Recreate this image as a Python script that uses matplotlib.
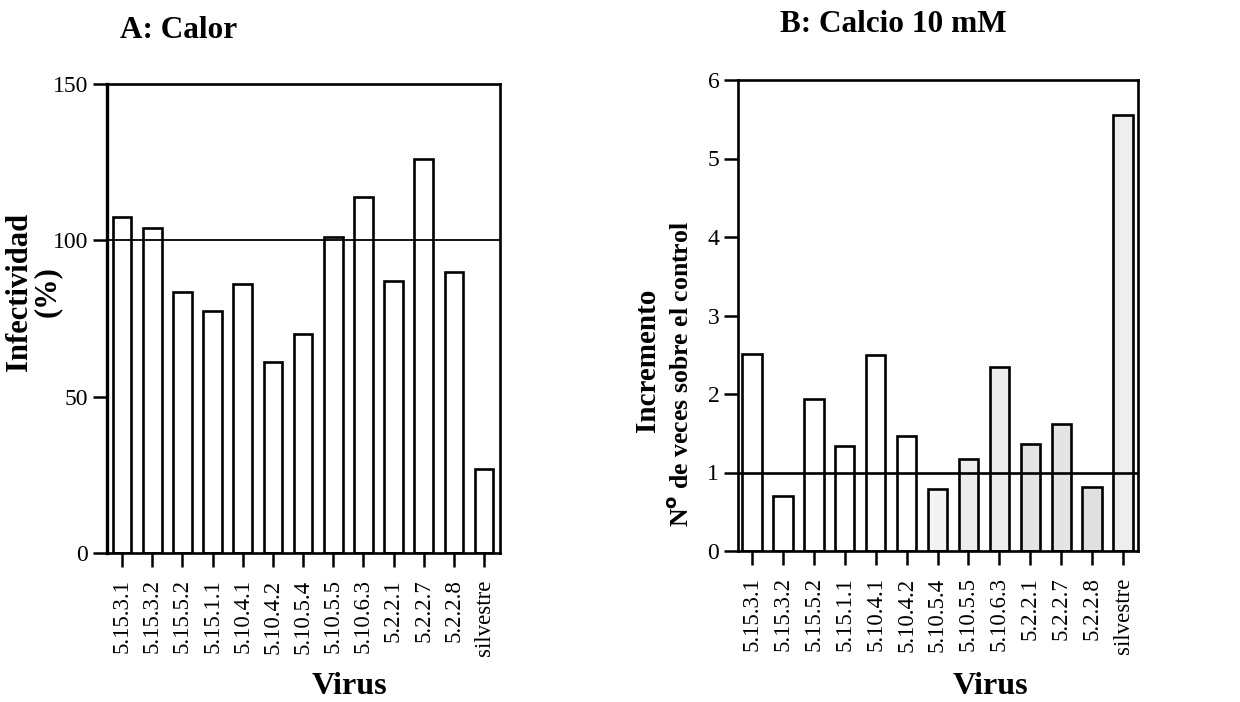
import matplotlib
matplotlib.use("Agg")
import matplotlib.pyplot as plt
import numpy as np

plt.rcParams['font.family'] = ['Liberation Serif', 'DejaVu Serif']

# Datos
virus = ['5.15.3.1', '5.15.3.2', '5.15.5.2', '5.15.1.1', '5.10.4.1', '5.10.4.2',
         '5.10.5.4', '5.10.5.5', '5.10.6.3', '5.2.2.1', '5.2.2.7', '5.2.2.8', 'silvestre']
infectividad = [107.5, 104, 83.5, 77.5, 86, 61, 70, 101, 114, 87, 126, 90, 27]
incremento = [2.51, 0.70, 1.94, 1.34, 2.50, 1.46, 0.79, 1.17, 2.34, 1.36, 1.62, 0.82, 5.56]

# relleno punteado de las barras en B
relleno_b = ['white'] * 6 + ['#f3f3f3', '#ededed', '#ededed', '#e4e4e4', '#e4e4e4', '#e0e0e0', '#eeeeee']

fig = plt.figure(figsize=(12.4, 7.02), dpi=100)
axA = fig.add_axes([107 / 1240, 1 - 553 / 702, 393 / 1240, 469 / 702])
axB = fig.add_axes([738 / 1240, 1 - 551 / 702, 400 / 1240, 471 / 702])

x = np.arange(len(virus))

def estilo(ax):
    for s in ax.spines.values():
        s.set_linewidth(1.9)
    ax.tick_params(axis='both', direction='out', length=10, width=1.8, labelsize=17)
    ax.tick_params(axis='x', labelrotation=90, pad=9, labelsize=16.5)
    ax.set_xticks(x)
    ax.set_xticklabels(virus)

# Panel A
axA.bar(x, infectividad, width=0.62, color='white', edgecolor='black', linewidth=1.9, zorder=2)
axA.axhline(100, color='black', linewidth=1.3, zorder=3)
axA.set_xlim(-0.5, 12.53)
axA.set_ylim(0, 150)
axA.set_yticks([0, 50, 100, 150])
estilo(axA)
axA.spines['left'].set_linewidth(2.4)

# Panel B
axB.bar(x, incremento, width=0.63, color=relleno_b, edgecolor='black', linewidth=1.9, zorder=2)
axB.axhline(1, color='black', linewidth=1.9, zorder=3)
axB.set_xlim(-0.45, 12.48)
axB.set_ylim(0, 6)
axB.set_yticks([0, 1, 2, 3, 4, 5, 6])
estilo(axB)

# Textos
fig.text(120 / 1240, 1 - 31 / 702, 'A: Calor', fontsize=22.5, fontweight='bold', ha='left', va='center')
fig.text(780 / 1240, 1 - 25 / 702, 'B: Calcio 10 mM', fontsize=22.5, fontweight='bold', ha='left', va='center')

fig.text(33 / 1240, 1 - 292 / 702, 'Infectividad\n(%)', fontsize=22, fontweight='bold',
         rotation=90, ha='center', va='center', linespacing=0.95, multialignment='center')
fig.text(648 / 1240, 1 - 360 / 702, 'Incremento', fontsize=21, fontweight='bold',
         rotation=90, ha='center', va='center')
fig.text(680 / 1240, 1 - 374 / 702, 'N$^{\\mathbf{o}}$ de veces sobre el control', fontsize=18.5,
         fontweight='bold', rotation=90, ha='center', va='center')

fig.text(349 / 1240, 1 - 686 / 702, 'Virus', fontsize=23, fontweight='bold', ha='center', va='center')
fig.text(990 / 1240, 1 - 686 / 702, 'Virus', fontsize=23, fontweight='bold', ha='center', va='center')

fig.savefig('out.png', dpi=100, facecolor='white')
